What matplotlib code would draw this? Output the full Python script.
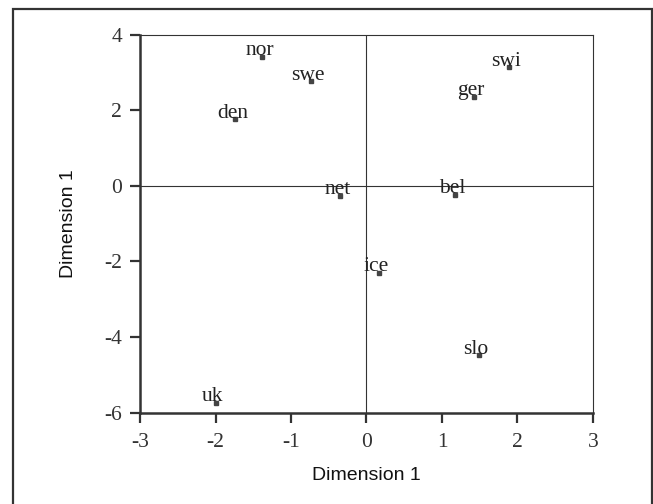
import matplotlib
matplotlib.use("Agg")
import matplotlib.pyplot as plt
from matplotlib.patches import Rectangle

# country positions on the two dimensions
countries = ["nor", "swe", "den", "net", "swi", "ger", "bel", "ice", "slo", "uk"]
dim_x = [-1.38, -0.74, -1.74, -0.35, 1.89, 1.42, 1.17, 0.17, 1.49, -2.00]
dim_y = [3.42, 2.77, 1.76, -0.26, 3.14, 2.36, -0.23, -2.30, -4.48, -5.74]

x_ticks = [-3, -2, -1, 0, 1, 2, 3]
y_ticks = [-6, -4, -2, 0, 2, 4]

ink = "#333333"

fig = plt.figure(figsize=(6.53, 5.04), dpi=100)
ax = fig.add_axes([0.2144, 0.1815, 0.6937, 0.7494])

# frame around the whole figure
fig.patches.append(Rectangle((0.0199, -0.02), 0.978, 1.002, transform=fig.transFigure,
                             fill=False, edgecolor=ink, linewidth=1.6, clip_on=False))

ax.axhline(0, color=ink, linewidth=0.8, zorder=1)
ax.axvline(0, color=ink, linewidth=0.8, zorder=1)

ax.plot(dim_x, dim_y, linestyle="none", marker="s", markersize=2.6,
        color="#444444", zorder=3)
for name, x, y in zip(countries, dim_x, dim_y):
    ax.annotate(name, (x, y), xytext=(-2, 1), textcoords="offset points",
                ha="center", va="baseline", fontsize=15.5, color="#222222",
                family="Liberation Serif", zorder=4)

ax.set_xlim(-3, 3)
ax.set_ylim(-6, 4)
ax.set_xticks(x_ticks)
ax.set_yticks(y_ticks)
ax.set_xticklabels([str(t) for t in x_ticks], family="Liberation Serif", fontsize=15.5, color=ink)
ax.set_yticklabels([str(t) for t in y_ticks], family="Liberation Serif", fontsize=15.5, color=ink)
ax.tick_params(direction="out", length=7, width=1.6, color=ink)
ax.tick_params(axis="x", pad=8)
ax.tick_params(axis="y", pad=6)

for side in ["left", "bottom"]:
    ax.spines[side].set_linewidth(1.8)
    ax.spines[side].set_color(ink)
for side in ["top", "right"]:
    ax.spines[side].set_linewidth(0.8)
    ax.spines[side].set_color(ink)

ax.set_xlabel("Dimension 1", family="Liberation Sans", fontsize=14, color="#111111")
ax.set_ylabel("Dimension 1", family="Liberation Sans", fontsize=14, color="#111111")
ax.xaxis.set_label_coords(0.5, -0.143)
ax.yaxis.set_label_coords(-0.14, 0.5)

fig.savefig("out.png", dpi=100)
